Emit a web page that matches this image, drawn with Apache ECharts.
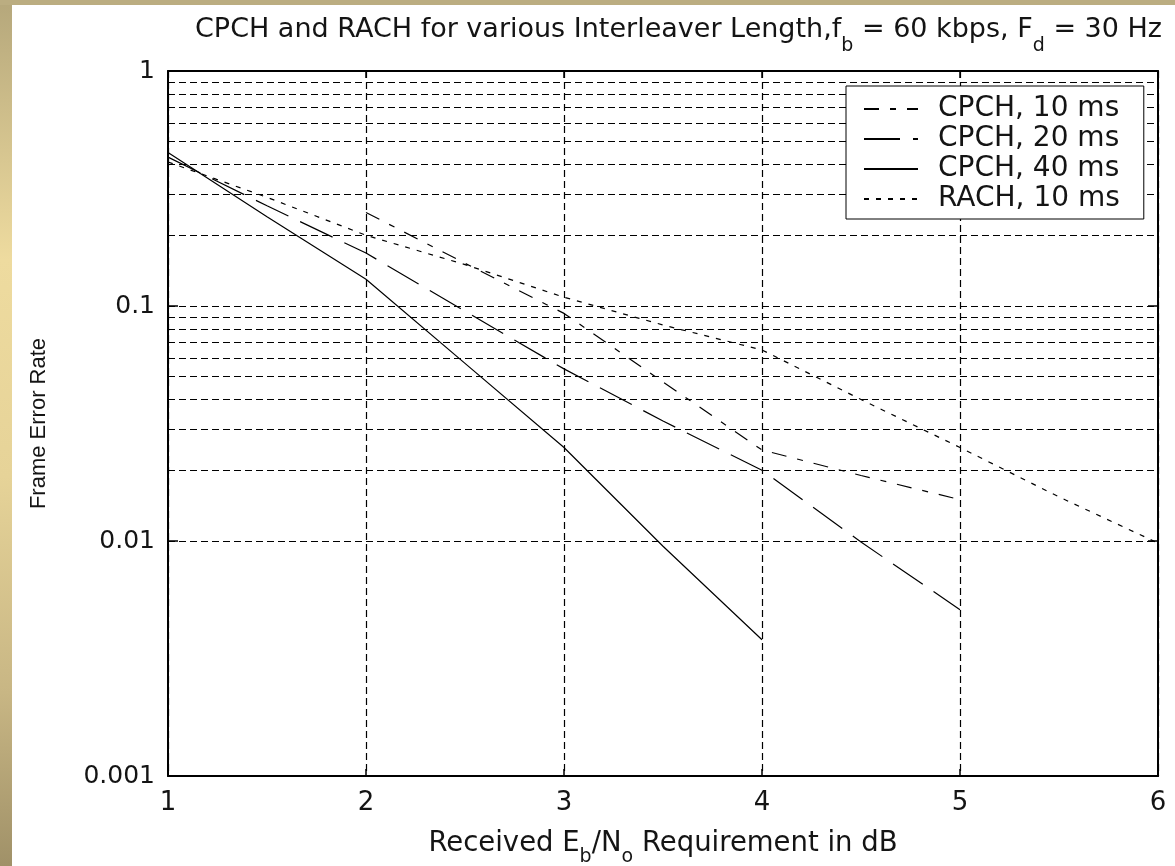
<!DOCTYPE html>
<html>
<head>
<meta charset="utf-8">
<script src="https://cdn.jsdelivr.net/npm/echarts@6/dist/echarts.min.js"></script>
<style>
  html, body { margin: 0; padding: 0; }
  body {
    width: 1175px; height: 866px; position: relative; overflow: hidden;
    background: linear-gradient(to bottom, #b5a77b 0%, #eedb9f 30%, #e6d398 55%, #c8b684 80%, #a09168 100%);
  }
  #topband { position: absolute; left: 0; top: 0; width: 1175px; height: 5px; background: #bbad81; }
  #paper { position: absolute; left: 12px; top: 5px; right: 0; bottom: 0; background: #fff; }
  #chart { position: absolute; left: 0; top: 0; width: 1175px; height: 866px; }
</style>
</head>
<body>
<div id="topband"></div>
<div id="paper"></div>
<div id="chart"></div>
<script>
// Received Eb/No (dB)
const snrFull = [1, 1.5, 2, 2.5, 3, 3.5, 4, 4.5, 5, 5.5, 6]
const snrCpch10 = [2, 2.5, 3, 3.5, 4, 4.5, 5]
const snrCpch20 = [1, 1.5, 2, 2.5, 3, 3.5, 4, 4.5, 5]
const snrCpch40 = [1, 1.5, 2, 2.5, 3, 3.5, 4]

// frame error rate
const ferCpch10 = [0.25, 0.152, 0.093, 0.0475, 0.0244, 0.019, 0.015]
const ferCpch20 = [0.43, 0.267, 0.168, 0.095, 0.054, 0.0324, 0.02, 0.0099, 0.0051]
const ferCpch40 = [0.45, 0.24, 0.13, 0.057, 0.025, 0.0095, 0.0038]
const ferRach10 = [0.41, 0.29, 0.2, 0.15, 0.109, 0.083, 0.065, 0.04, 0.025, 0.0154, 0.0098]

const seriesNames = ['CPCH, 10 ms', 'CPCH, 20 ms', 'CPCH, 40 ms', 'RACH, 10 ms']
const yTickLabels = ['0.001', '0.01', '0.1', '1']
const yMinorTicks = [
  0.002, 0.003, 0.004, 0.005, 0.006, 0.007, 0.008, 0.009,
  0.02, 0.03, 0.04, 0.05, 0.06, 0.07, 0.08, 0.09,
  0.2, 0.3, 0.4, 0.5, 0.6, 0.7, 0.8, 0.9
]

const wide = 'DejaVu Sans, Verdana, sans-serif'
const narrow = 'Liberation Sans, Arial, sans-serif'
const ink = '#141414'
const gridDash = [7, 4]

function pairs(xs, ys) {
  return xs.map((x, i) => [x, ys[i]])
}

function curve(name, xs, ys, dash) {
  return {
    name: name,
    type: 'line',
    data: pairs(xs, ys),
    symbol: 'none',
    showSymbol: false,
    z: 5,
    itemStyle: { color: '#000' },
    lineStyle: { color: '#000', width: 1.2, type: dash }
  }
}

const chart = echarts.init(document.getElementById('chart'), null, { renderer: 'canvas' })

chart.setOption({
  backgroundColor: 'transparent',
  animation: false,
  textStyle: { fontFamily: wide, color: ink },
  title: {
    left: 190,
    top: 10,
    text: '{a|CPCH and RACH for various Interleaver Length,f}{s|b}{a| = 60 kbps, F}{s|d}{a| = 30 Hz}',
    textStyle: {
      fontWeight: 'normal',
      rich: {
        a: { fontSize: 27, fontFamily: wide, fontWeight: 'normal', color: ink, lineHeight: 30 },
        s: { fontSize: 19, fontFamily: wide, fontWeight: 'normal', color: ink, lineHeight: 19, padding: [33, 0, 0, 0] }
      }
    }
  },
  grid: { left: 168, top: 71, right: 17, bottom: 90, containLabel: false, outerBoundsMode: 'none' },
  legend: {
    data: seriesNames,
    orient: 'vertical',
    left: 846,
    top: 86,
    padding: [9, 24, 6, 17],
    itemGap: 2,
    itemWidth: 54,
    itemHeight: 14,
    backgroundColor: '#fff',
    borderColor: '#000',
    borderWidth: 1,
    borderRadius: 0,
    z: 10,
    itemStyle: { color: 'transparent', borderColor: 'transparent', borderWidth: 0 },
    textStyle: { fontSize: 28, fontFamily: wide, color: ink, padding: [0, 0, 0, 15] }
  },
  xAxis: [
    {
      type: 'value',
      min: 1,
      max: 6,
      interval: 1,
      name: '{a|Received E}{s|b}{a|/N}{s|o}{a| Requirement in dB}',
      nameLocation: 'middle',
      nameGap: 52,
      nameTextStyle: {
        rich: {
          a: { fontSize: 27.5, fontFamily: wide, color: ink, lineHeight: 30 },
          s: { fontSize: 19, fontFamily: wide, color: ink, lineHeight: 19, padding: [27, 0, 0, 0] }
        }
      },
      axisLine: { lineStyle: { color: '#000', width: 2 } },
      axisTick: { inside: true, length: 7, lineStyle: { color: '#000', width: 1.5 } },
      axisLabel: { fontSize: 26, fontFamily: wide, color: ink, margin: 14 },
      splitLine: { show: true, lineStyle: { color: '#000', width: 1.2, type: gridDash } }
    },
    {
      type: 'value',
      position: 'top',
      min: 1,
      max: 6,
      interval: 1,
      axisLine: { onZero: false, lineStyle: { color: '#000', width: 2 } },
      axisTick: { inside: true, length: 7, lineStyle: { color: '#000', width: 1.5 } },
      axisLabel: { show: false },
      splitLine: { show: false }
    }
  ],
  yAxis: [
    {
      type: 'log',
      logBase: 10,
      min: 0.001,
      max: 1,
      name: 'Frame Error Rate',
      nameLocation: 'middle',
      nameGap: 118,
      nameRotate: 90,
      nameTextStyle: { fontSize: 22, fontFamily: narrow, color: ink },
      axisLine: { lineStyle: { color: '#000', width: 2 } },
      axisTick: { inside: true, length: 10, lineStyle: { color: '#000', width: 1.5 } },
      axisLabel: {
        fontSize: 25,
        fontFamily: wide,
        color: ink,
        margin: 13,
        formatter: function (v) {
          return yTickLabels[Math.round(Math.log10(v)) + 3]
        }
      },
      splitLine: { show: true, lineStyle: { color: '#000', width: 1.2, type: gridDash } }
    },
    {
      type: 'log',
      logBase: 10,
      min: 0.001,
      max: 1,
      position: 'right',
      axisLine: { onZero: false, lineStyle: { color: '#000', width: 2 } },
      axisTick: { inside: true, length: 10, lineStyle: { color: '#000', width: 1.5 } },
      axisLabel: { show: false },
      splitLine: { show: false }
    }
  ],
  series: [
    {
      name: 'minor grid',
      type: 'line',
      data: [],
      z: 1,
      markLine: {
        silent: true,
        symbol: 'none',
        animation: false,
        label: { show: false },
        lineStyle: { color: '#000', width: 1.2, type: gridDash },
        data: yMinorTicks.map(v => ({ yAxis: v }))
      }
    },
    curve(seriesNames[0], snrCpch10, ferCpch10, [15, 11, 6, 11]),
    curve(seriesNames[1], snrCpch20, ferCpch20, [36, 13]),
    curve(seriesNames[2], snrCpch40, ferCpch40, 'solid'),
    curve(seriesNames[3], snrFull, ferRach10, [5, 7])
  ]
})
</script>
</body>
</html>
